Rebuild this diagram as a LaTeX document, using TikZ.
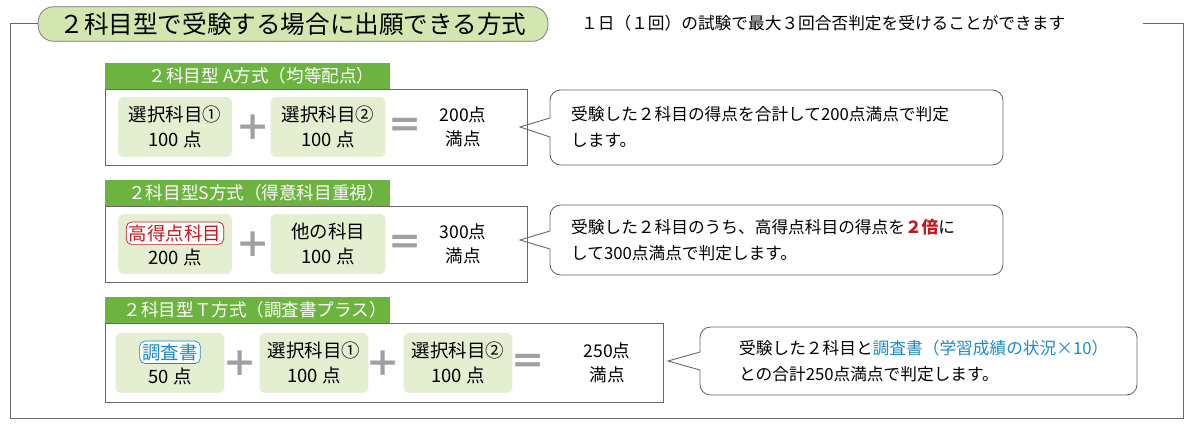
\documentclass[tikz,border=0pt]{standalone}
\usepackage{fontspec}
\setmainfont{Noto Sans CJK JP}
\usetikzlibrary{positioning}
\definecolor{hdgreen}{HTML}{6DB33F}
\definecolor{pillgreen}{HTML}{D3E6B0}
\definecolor{itemgreen}{HTML}{E3EFD0}
\definecolor{opgray}{HTML}{A0A0A0}
\definecolor{hlred}{HTML}{C8161D}
\definecolor{hlblue}{HTML}{1A8BC8}
\tikzset{
  header/.style={fill=hdgreen,text=white,anchor=west,minimum height=0.52cm,font=\fontsize{10}{11}\selectfont,inner sep=0pt},
  frame/.style={draw=black!60,line width=0.5pt},
  item/.style={fill=itemgreen,rounded corners=3pt,align=center,font=\fontsize{10.5}{14}\selectfont},
  op/.style={text=opgray,font=\fontsize{20}{20}\selectfont\bfseries},
  total/.style={align=center,font=\fontsize{10}{14}\selectfont},
  note/.style={align=left,anchor=west,font=\fontsize{9.5}{14.5}\selectfont},
  bubble/.style={draw=black!60,line width=0.5pt,rounded corners=6pt},
  tag/.style={fill=white,rounded corners=3pt,inner sep=1.5pt,minimum width=0pt,minimum height=0pt}
}
\newcommand{\redtag}[1]{\tikz[baseline=(t.base)]\node[tag,draw=hlred,text=hlred] (t) {#1};}
\newcommand{\bluetag}[1]{\tikz[baseline=(t.base)]\node[tag,draw=hlblue,text=hlblue] (t) {#1};}
\begin{document}
\begin{tikzpicture}[x=0.02cm,y=-0.02cm]
\useasboundingbox (0,0) rectangle (1193,429);
% outer frame
\coordinate (fa) at (38,23);
\coordinate (fb) at (1143,23);
\draw[frame] (fa) -- (10,23) -- (10,418) -- (1183,418) -- (1183,23) -- (fb);
% title
\node[draw=black!55,fill=pillgreen,rounded corners=9pt,minimum width=10.2cm,minimum height=0.64cm,font=\fontsize{14}{15}\selectfont] (title) at (293,24) {２科目型で受験する場合に出願できる方式};
\node[anchor=west,font=\fontsize{9.5}{11}\selectfont] (sub) at (575,23) {１日（１回）の試験で最大３回合否判定を受けることができます};

% A方式
\draw[frame] (105,89) rectangle (527,165);
\node[header,minimum width=5.7cm] (hA) at (105,76) {\hspace{0.55cm}２科目型 A方式（均等配点）};
\node[item,minimum width=2.28cm,minimum height=1.2cm] (a1) at (175,127) {選択科目①\\100 点};
\node[op] (pA) at (253,128) {＋};
\node[item,minimum width=2.3cm,minimum height=1.2cm] (a2) at (328,127) {選択科目②\\100 点};
\node[op] (eA) at (405,128) {＝};
\node[total] (tA) at (463,127) {200点\\満点};
\draw[bubble] (550,118) -- (550,90) -- (1003,90) -- (1003,165) -- (550,165) -- (550,137);
\draw[frame] (550,118) -- (520,127) -- (550,137);
\node[note] (nA) at (565,127) {受験した２科目の得点を合計して200点満点で判定\\します。};

% S方式
\draw[frame] (105,206) rectangle (527,282);
\node[header,minimum width=5.7cm] (hS) at (105,193) {\hspace{0.35cm}２科目型S方式（得意科目重視）};
\node[item,minimum width=2.28cm,minimum height=1.2cm] (s1) at (175,244) {\redtag{高得点科目}\\200 点};
\node[op] (pS) at (253,245) {＋};
\node[item,minimum width=2.3cm,minimum height=1.2cm] (s2) at (328,244) {他の科目\\100 点};
\node[op] (eS) at (405,245) {＝};
\node[total] (tS) at (463,244) {300点\\満点};
\draw[bubble] (550,231) -- (550,205) -- (1003,205) -- (1003,275) -- (550,275) -- (550,249);
\draw[frame] (550,231) -- (520,240) -- (550,249);
\node[note] (nS) at (565,240) {受験した２科目のうち、高得点科目の得点を\textcolor{hlred}{\bfseries ２倍}に\\して300点満点で判定します。};

% T方式
\draw[frame] (105,323) rectangle (663,402);
\node[header,minimum width=5.7cm] (hT) at (105,310) {\hspace{0.3cm}２科目型Ｔ方式（調査書プラス）};
\node[item,minimum width=2.18cm,minimum height=1.2cm] (t1) at (170,363) {\bluetag{調査書}\\50 点};
\node[op] (pT1) at (240,364) {＋};
\node[item,minimum width=2.18cm,minimum height=1.2cm] (t2) at (314,363) {選択科目①\\100 点};
\node[op] (pT2) at (383,364) {＋};
\node[item,minimum width=2.18cm,minimum height=1.2cm] (t3) at (458,363) {選択科目②\\100 点};
\node[op] (eT) at (528,364) {＝};
\node[total] (tT) at (607,363) {250点\\満点};
\draw[bubble] (700,352) -- (700,327) -- (1137,327) -- (1137,395) -- (700,395) -- (700,370);
\draw[frame] (700,352) -- (668,361) -- (700,370);
\node[note] (nT) at (733,361) {受験した２科目と\textcolor{hlblue}{調査書（学習成績の状況×10）}\\との合計250点満点で判定します。};
\end{tikzpicture}
\end{document}
